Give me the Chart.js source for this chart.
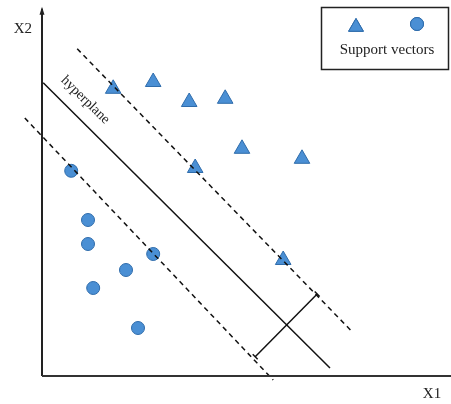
<!DOCTYPE html>
<html>
<head>
<meta charset="utf-8">
<script src="https://cdn.jsdelivr.net/npm/chart.js@4"></script>
<style>
  body { margin: 0; background: #fff; }
  #wrap { width: 451px; height: 404px; position: relative; }
</style>
</head>
<body>
<div id="wrap"><canvas id="svmChart"></canvas></div>
<script>
// Class A (triangles) and class B (circles), X1 / X2 units
const triX = [1.78, 2.78, 3.68, 4.58, 5.00, 6.50, 3.83, 6.03];
const triY = [7.18, 7.35, 6.85, 6.93, 5.68, 5.43, 5.20, 2.90];
const cirX = [0.73, 1.15, 1.15, 2.78, 2.10, 1.28, 2.40];
const cirY = [5.13, 3.90, 3.30, 3.05, 2.65, 2.20, 1.20];

// Lines: [x1, y1, x2, y2]
const hyperplane = [0.03, 7.33, 7.20, 0.20];
const upperMargin = [0.88, 8.18, 7.78, 1.08];
const lowerMargin = [-0.43, 6.45, 5.78, -0.10];
const marginWidth = [6.88, 2.05, 5.33, 0.48];
const axisX = [0, 0, 10.25, 0];
const axisY = [0, 0, 0, 9.18];

const axisLabels = ['X1', 'X2'];
const lineLabel = 'hyperplane';
const legendText = 'Support vectors';

const BLUE = '#4a8fd4';
const BLUE_EDGE = '#2f6cab';
const SERIF = '"Liberation Serif", "DejaVu Serif", serif';

function pts(xs, ys) {
    return xs.map((x, i) => ({ x: x, y: ys[i] }));
}

function seg(s) {
    return [{ x: s[0], y: s[1] }, { x: s[2], y: s[3] }];
}

function lineSet(s, opts) {
    return Object.assign({
        type: 'line',
        data: seg(s),
        borderColor: '#111',
        borderWidth: 1.5,
        pointRadius: 0,
        fill: false,
        showLine: true
    }, opts);
}

// text, legend box, axis arrow
const decorPlugin = {
    id: 'decor',
    afterDatasetsDraw(chart) {
        const ctx = chart.ctx;
        const xs = chart.scales.x, ys = chart.scales.y;
        ctx.save();
        ctx.fillStyle = '#222';
        ctx.font = '15px ' + SERIF;
        ctx.textAlign = 'center';
        ctx.textBaseline = 'middle';
        ctx.fillText(axisLabels[0], xs.getPixelForValue(9.75), ys.getPixelForValue(-0.45));
        ctx.fillText(axisLabels[1], xs.getPixelForValue(-0.48), ys.getPixelForValue(8.67));

        // hyperplane label, rotated along the line
        ctx.save();
        ctx.translate(xs.getPixelForValue(1.08), ys.getPixelForValue(6.9));
        ctx.rotate(Math.atan2(1, 1.02));
        ctx.font = '14px ' + SERIF;
        ctx.fillText(lineLabel, 0, 0);
        ctx.restore();

        // y axis arrow tip
        const tx = xs.getPixelForValue(0), ty = ys.getPixelForValue(axisY[3]);
        ctx.beginPath();
        ctx.moveTo(tx, ty - 2);
        ctx.lineTo(tx - 2.5, ty + 6);
        ctx.lineTo(tx + 2.5, ty + 6);
        ctx.closePath();
        ctx.fill();

        // legend box
        ctx.strokeStyle = '#222';
        ctx.lineWidth = 1.5;
        ctx.strokeRect(321.5, 7.5, 127, 62);
        ctx.fillStyle = BLUE;
        ctx.strokeStyle = BLUE_EDGE;
        ctx.lineWidth = 1;
        Chart.helpers.drawPoint(ctx, { pointStyle: 'triangle', radius: 8.5, rotation: 0, borderWidth: 1 }, 356, 27);
        ctx.fill();
        ctx.stroke();
        Chart.helpers.drawPoint(ctx, { pointStyle: 'circle', radius: 6.5, rotation: 0, borderWidth: 1 }, 417, 24);
        ctx.fill();
        ctx.stroke();
        ctx.fillStyle = '#222';
        ctx.font = '15px ' + SERIF;
        ctx.fillText(legendText, 387, 50);
        ctx.restore();
    }
};

const ctx = document.getElementById('svmChart').getContext('2d');
const svmChart = new Chart(ctx, {
    type: 'scatter',
    data: {
        datasets: [
            lineSet(axisX, { borderWidth: 2, borderColor: '#333' }),
            lineSet(axisY, { borderWidth: 2, borderColor: '#222' }),
            lineSet(hyperplane, {}),
            lineSet(upperMargin, { borderDash: [5, 4] }),
            lineSet(lowerMargin, { borderDash: [5, 4] }),
            lineSet(marginWidth, {
                pointRadius: 3.5,
                pointStyle: 'line',
                rotation: 45,
                pointBorderColor: '#111',
                pointBorderWidth: 1.5
            }),
            {
                label: 'Class A',
                data: pts(triX, triY),
                pointStyle: 'triangle',
                pointRadius: 9,
                backgroundColor: BLUE,
                borderColor: BLUE_EDGE,
                borderWidth: 1
            },
            {
                label: 'Class B',
                data: pts(cirX, cirY),
                pointStyle: 'circle',
                pointRadius: 6.5,
                backgroundColor: BLUE,
                borderColor: BLUE_EDGE,
                borderWidth: 1
            }
        ]
    },
    options: {
        responsive: true,
        maintainAspectRatio: false,
        animation: false,
        layout: { padding: 0, autoPadding: false },
        plugins: {
            legend: { display: false },
            tooltip: { enabled: false }
        },
        scales: {
            x: { type: 'linear', display: false, min: -1.05, max: 10.225 },
            y: { type: 'linear', display: false, min: -0.7, max: 9.4 }
        }
    },
    plugins: [decorPlugin]
});
</script>
</body>
</html>
